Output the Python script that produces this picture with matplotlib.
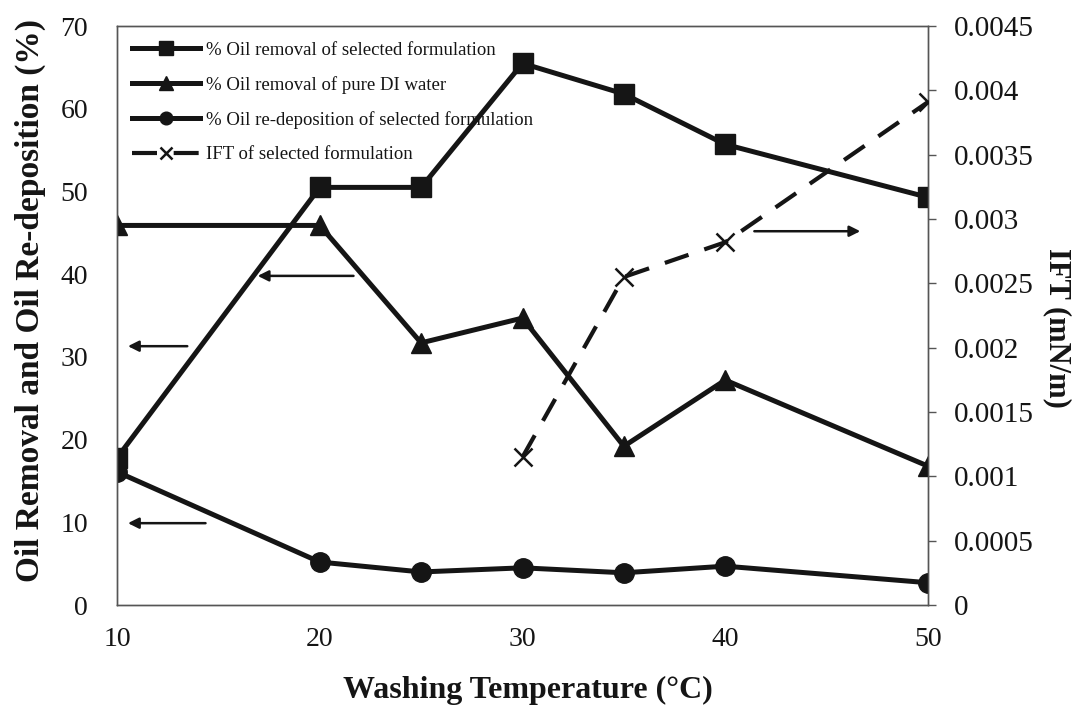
import matplotlib
matplotlib.use("Agg")
import matplotlib.pyplot as plt
from matplotlib.ticker import FixedLocator, FixedFormatter

# ---- data ----
temps = [10, 20, 25, 30, 35, 40, 50]
oil_removal_selected = [17.8, 50.5, 50.5, 65.5, 61.8, 55.7, 49.3]
oil_removal_di = [45.9, 45.9, 31.7, 34.7, 19.2, 27.2, 16.8]
oil_redeposition = [16.1, 5.2, 4.0, 4.5, 3.9, 4.7, 2.7]
ift_temps = [30, 35, 40, 50]
ift_values = [0.00115, 0.00255, 0.00282, 0.00391]

x_ticks = [10, 20, 30, 40, 50]
left_ticks = [0, 10, 20, 30, 40, 50, 60, 70]
right_ticks = [0, 0.0005, 0.001, 0.0015, 0.002, 0.0025, 0.003, 0.0035, 0.004, 0.0045]
right_labels = ["0", "0.0005", "0.001", "0.0015", "0.002", "0.0025", "0.003", "0.0035", "0.004", "0.0045"]

labels = ["% Oil removal of selected formulation",
          "% Oil removal of pure DI water",
          "% Oil re-deposition of selected formulation",
          "IFT of selected formulation"]

plt.rcParams['font.family'] = ['Liberation Serif', 'DejaVu Serif']
ink = "#151515"

fig = plt.figure(figsize=(10.74, 7.06), dpi=100)
ax = fig.add_axes([0.109, 0.143, 0.755, 0.820])
ax2 = ax.twinx()

lw = 3.6
l1, = ax.plot(temps, oil_removal_selected, color=ink, lw=lw, marker='s', ms=15, zorder=3)
l2, = ax.plot(temps, oil_removal_di, color=ink, lw=lw, marker='^', ms=15, zorder=3)
l3, = ax.plot(temps, oil_redeposition, color=ink, lw=lw, marker='o', ms=14, zorder=3)
l4, = ax2.plot(ift_temps, ift_values, color=ink, lw=3.0, ls=(0, (6, 4)), marker='x',
               ms=13, mew=1.8, zorder=3)

ax.set_xlim(10, 50)
ax.set_ylim(0, 70)
ax2.set_ylim(0, 0.0045)

ax.xaxis.set_major_locator(FixedLocator(x_ticks))
ax.yaxis.set_major_locator(FixedLocator(left_ticks))
ax2.yaxis.set_major_locator(FixedLocator(right_ticks))
ax2.yaxis.set_major_formatter(FixedFormatter(right_labels))

for a in (ax, ax2):
    for s in a.spines.values():
        s.set_color("#555555")
        s.set_linewidth(1.0)

ax.tick_params(axis='x', length=0, pad=16, labelsize=20, colors=ink)
ax.tick_params(axis='y', length=0, pad=21, labelsize=20, colors=ink)
ax2.tick_params(axis='y', length=6, width=1.0, color="#555555", pad=13, labelsize=21,
                labelcolor=ink)

# axis titles
fig.text(528 / 1074, 1 - 690 / 706, "Washing Temperature (°C)", fontsize=23,
         fontweight='bold', color=ink, ha='center', va='center')
fig.text(30 / 1074, 1 - 301 / 706, "Oil Removal and Oil Re-deposition (%)", fontsize=24,
         fontweight='bold', color=ink, ha='center', va='center', rotation=90)
fig.text(1057 / 1074, 1 - 328 / 706, "IFT (mN/m)", fontsize=22,
         fontweight='bold', color=ink, ha='center', va='center', rotation=270)

# arrows indicating axes
arrow_kw = dict(arrowstyle='-|>', color=ink, lw=1.8, mutation_scale=16)
ax.annotate("", xy=(10.4, 31.3), xytext=(13.6, 31.3), arrowprops=arrow_kw)
ax.annotate("", xy=(16.8, 39.8), xytext=(21.8, 39.8), arrowprops=arrow_kw)
ax.annotate("", xy=(10.4, 9.9), xytext=(14.5, 9.9), arrowprops=arrow_kw)
ax.annotate("", xy=(46.8, 45.2), xytext=(41.3, 45.2), arrowprops=arrow_kw)

leg = ax2.legend([l1, l2, l3, l4], labels, loc='upper left', bbox_to_anchor=(0.0, 1.0),
                 frameon=False, fontsize=13.5, handlelength=3.6, handletextpad=0.32,
                 labelspacing=0.92, markerscale=0.65, borderaxespad=0.42)
for t in leg.get_texts():
    t.set_color(ink)

fig.savefig("out.png", dpi=100, facecolor='white')
